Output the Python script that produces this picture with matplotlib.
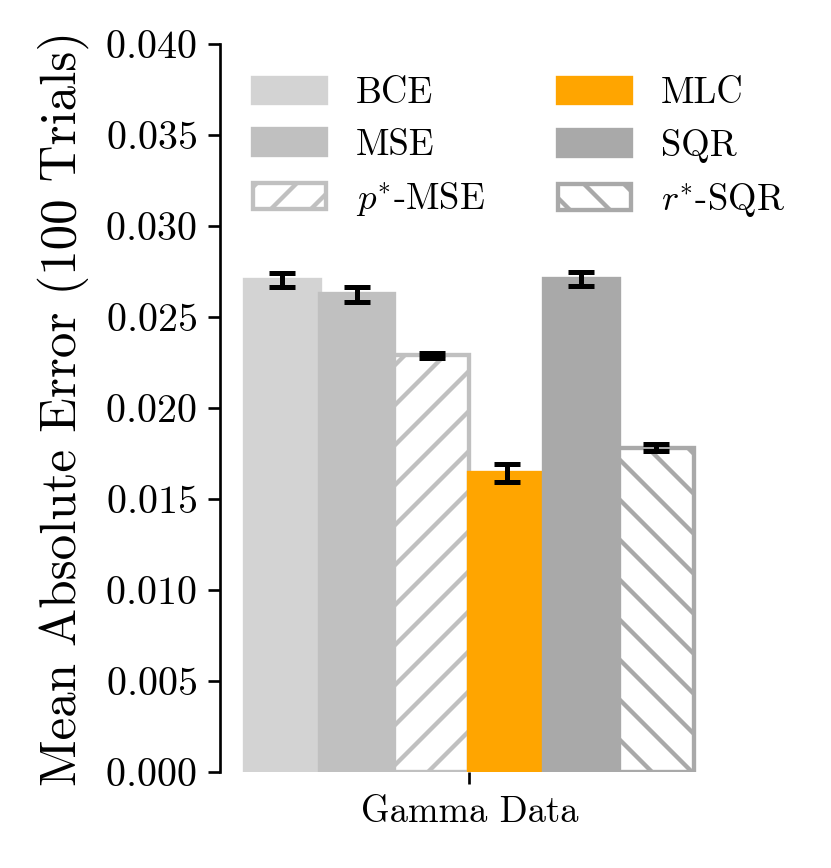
# bar chart - mean absolute error on gamma data
import numpy as np
import matplotlib
matplotlib.use("Agg")
import matplotlib.pyplot as plt

plt.rcParams['font.family'] = 'cmr10'
plt.rcParams['mathtext.fontset'] = 'cm'
plt.rcParams['axes.formatter.use_mathtext'] = True
plt.rcParams['font.size'] = 11
plt.rcParams['hatch.linewidth'] = 1.3

# data
methods = ['BCE', 'MSE', r'$p^{*}$-MSE', 'MLC', 'SQR', r'$r^{*}$-SQR']
mae = [0.02705, 0.02624, 0.02290, 0.01643, 0.02707, 0.01782]
err = [0.00038, 0.00042, 0.00014, 0.00048, 0.00038, 0.00019]
dataset = ['Gamma Data']

colors = ['lightgray', 'silver', 'white', 'orange', 'darkgray', 'white']
edges = ['lightgray', 'silver', 'silver', 'orange', 'darkgray', 'darkgray']
hatches = [None, None, '//', None, None, '\\\\']

fig = plt.figure(figsize=(831/240, 868/240), dpi=240)
ax = fig.add_axes([0.2647, 0.1106, 0.6, 0.8387])

w = 0.15
for i in range(len(methods)):
  x = (i - 2.5) * w
  ax.bar(x, mae[i], width=w, color=colors[i], edgecolor=edges[i],
         hatch=hatches[i], linewidth=1.3, label=methods[i])
  ax.errorbar(x, mae[i], yerr=err[i], color='black', elinewidth=1.5,
              capsize=4, capthick=1.5, fmt='none')

ax.set_xlim(-0.5, 0.5)
ax.set_ylim(0, 0.04)
ax.set_yticks(np.arange(0, 0.0401, 0.005))
ax.set_xticks([0])
ax.set_xticklabels(dataset)
ax.tick_params(axis='y', labelsize=12)
ax.set_ylabel('Mean Absolute Error (100 Trials)', fontsize=15.3, labelpad=5)

ax.spines['top'].set_visible(False)
ax.spines['right'].set_visible(False)
ax.spines['bottom'].set_visible(False)

ax.legend(ncol=2, loc='upper left', frameon=False, fontsize=11)

plt.savefig('out.png', dpi=240)
